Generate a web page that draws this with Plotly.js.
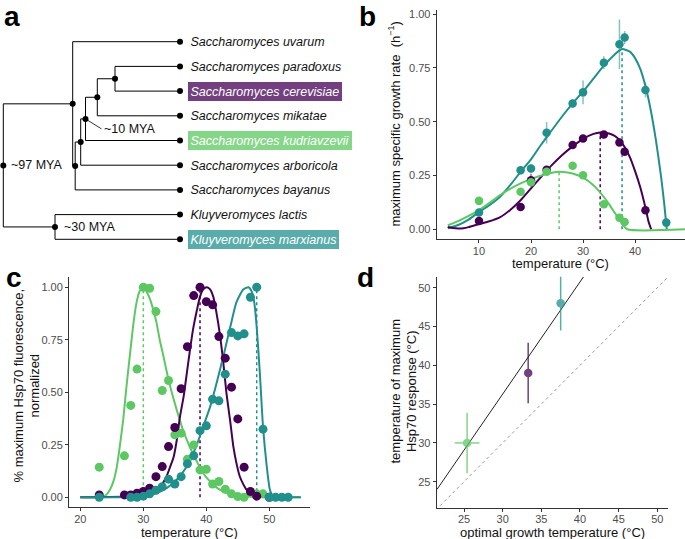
<!DOCTYPE html>
<html><head><meta charset="utf-8">
<script src="https://cdn.plot.ly/plotly-3.0.1.min.js"></script>
<style>html,body{margin:0;padding:0;background:#fff}#chart{width:685px;height:539px}</style>
</head><body><div id="chart"></div>
<script>
// ---------- Panel a: phylogeny ----------
const tipKeys = ['uvarum','paradoxus','cerevisiae','mikatae','kudriavzevii','arboricola','bayanus','lactis','marxianus'];
const tipNames = ['Saccharomyces uvarum','Saccharomyces paradoxus','Saccharomyces cerevisiae','Saccharomyces mikatae','Saccharomyces kudriavzevii','Saccharomyces arboricola','Saccharomyces bayanus','Kluyveromyces lactis','Kluyveromyces marxianus'];
const tipOrder = [1,2,3,4,5,6,7,8,9];
const tipDepth = 180;
const nodeKeys = ['R','S','B','C','D','E','F','K'];
const nodeDepth = [3.3, 72.7, 75.2, 80.7, 85.5, 97.3, 115, 55];
const nodeChildren = [['S','K'],['uvarum','B'],['C','bayanus'],['D','arboricola'],['E','kudriavzevii'],['F','mikatae'],['paradoxus','cerevisiae'],['lactis','marxianus']];
const ageNodes = ['R','K','D'];
const ageLabels = ['~97 MYA','~30 MYA','~10 MYA'];

// ---------- Panel b: growth rate ----------
const growthT_teal = [10,18,20,23,28,30,34,37,38,42,46];
const growthMu_teal = [0.078,0.274,0.282,0.448,0.584,0.636,0.774,0.859,0.891,0.647,0.031];
const growthErr_teal = [0.015,0.02,0.02,0.05,0.02,0.055,0.03,0.115,0.03,0.035,0.02];
const growthT_purple = [10,18,20,23,28,30,34,37,38,42];
const growthMu_purple = [0.039,0.104,0.228,0.277,0.391,0.422,0.440,0.403,0.360,0.088];
const growthErr_purple = [0.01,0.01,0.03,0.01,0.01,0.01,0.012,0.012,0.012,0.01];
const growthT_green = [10,18,20,23,28,30,34,37,38];
const growthMu_green = [0.132,0.174,0.218,0.267,0.295,0.251,0.116,0.054,0.034];
const growthErr_green = [0.01,0.01,0.01,0.01,0.01,0.01,0.01,0.01,0.01];

const fitB_teal_T = [4,6,8,10,12,14,16,18,20,22,24,26,28,30,32,34,36,37.5,39,40,41,42,43,44,45,45.6,46.1];
const fitB_teal_Mu = [0.005,0.02,0.045,0.08,0.112,0.15,0.205,0.267,0.325,0.395,0.46,0.525,0.585,0.64,0.70,0.76,0.81,0.837,0.825,0.795,0.745,0.665,0.555,0.415,0.245,0.12,0.0];
const fitB_purple_T = [4,5,6,7,8,10,12,14,16,18,20,22,24,26,28,30,32,33.3,35,36,37,38,39,40,41,42,42.6,43.1];
const fitB_purple_Mu = [0.011,0.006,0.004,0.005,0.01,0.024,0.037,0.055,0.09,0.135,0.19,0.245,0.298,0.345,0.385,0.42,0.443,0.45,0.445,0.435,0.415,0.382,0.335,0.27,0.195,0.1,0.035,0.0];
const fitB_green_T = [4,6,8,10,12,14,16,18,20,22,24,25.5,27,28,30,32,33,34,35,36,37,37.5,38.5,49.6];
const fitB_green_Mu = [0.019,0.038,0.062,0.088,0.123,0.158,0.188,0.213,0.233,0.25,0.263,0.267,0.264,0.259,0.24,0.205,0.18,0.15,0.117,0.08,0.045,0.026,0.0,0.0];

// species order for summary arrays: green (kudriavzevii), purple (cerevisiae), teal (marxianus)
const optGrowthT = [25.4, 33.3, 37.5];
const optGrowthMu = [0.267, 0.45, 0.837];
const optGrowthErr = [1.6, 0, 0];
const hspPeakT = [30, 39, 48];
const hspPeakErr = [3.9, 3.9, 3.5];

// ---------- Panel c: Hsp70 ----------
const hspT_green = [23,27,28,29,30,31,32,33,34,35,36,37,38,39,40,41,42,43,44,45,46,48,49];
const hspY_green = [0.143,0.197,0.437,0.610,1.0,0.995,0.884,0.508,0.556,0.297,0.305,0.181,0.249,0.13,0.133,0.063,0.075,0.038,0.016,0.003,0.0,0.016,0.016];
const hspT_purple = [23,27,28,29,30,31,32,33,34,35,36,37,38,39,40,41,42,43,44,45,46,47,48,50];
const hspY_purple = [0.011,0.011,0.011,0.019,0.027,0.043,0.098,0.146,0.241,0.332,0.517,0.717,0.960,1.0,0.931,0.916,0.765,0.662,0.524,0.373,0.143,0.027,0.005,0.0];
const hspT_teal = [23,28,29,30,31,32,33,34,35,36,37,38,39,40,41,42,43,44,45,46,47,48,49,50,51,52,53];
const hspY_teal = [0,0,0,0.005,0.016,0.033,0.05,0.086,0.063,0.098,0.159,0.198,0.317,0.34,0.467,0.459,0.586,0.784,0.768,0.778,0.952,1.0,0.324,0,0,0,0];

const fitC_green_T = [20,23,24,24.7,25.3,25.8,26.3,26.8,27.3,27.9,28.4,28.9,29.4,30,30.5,31.1,31.6,32.1,32.6,33.2,33.7,34.2,35.3,36.3,37.4,38.5,39.5,40.6,42.2,44.3,46.4,48.5,55];
const fitC_green_Y = [0,0,0.008,0.035,0.08,0.146,0.25,0.368,0.52,0.686,0.82,0.924,0.98,1.0,0.98,0.94,0.89,0.83,0.75,0.67,0.60,0.535,0.416,0.32,0.238,0.17,0.114,0.075,0.035,0.011,0.003,0,0];
const fitC_purple_T = [20,28,30,31,32,32.6,33.2,33.7,34.2,34.8,35.3,35.8,36.4,36.9,37.4,37.9,38.5,39,39.5,40.1,40.6,41.1,41.6,42.2,42.7,43.2,43.8,44.3,44.8,45.3,45.9,46.4,47.5,48.5,50,51];
const fitC_purple_Y = [0,0.003,0.01,0.018,0.032,0.05,0.072,0.1,0.14,0.19,0.27,0.38,0.48,0.59,0.70,0.8,0.89,0.955,0.99,1.0,0.99,0.955,0.88,0.765,0.64,0.495,0.36,0.24,0.16,0.1,0.06,0.035,0.011,0.004,0,0];
const fitC_teal_T = [20,30,32.1,33.7,35.3,36.9,38.5,39.5,40.6,41.6,42.7,43.8,44.8,45.9,46.7,47.2,47.6,48.0,48.5,49.0,49.6,50.1,50.6,51.5,55];
const fitC_teal_Y = [0,0.003,0.02,0.043,0.083,0.146,0.25,0.336,0.43,0.54,0.67,0.81,0.93,0.99,1.0,0.98,0.93,0.81,0.59,0.336,0.146,0.035,0.003,0,0];

// ---------- Panel d ----------
const fitD_X = [21.5, 40.45];
const fitD_Y = [24.0, 51.4];
const identityXY = [21.9, 51.4];

// ---------- axis titles ----------
const titleB_x = 'temperature (°C)';
const titleB_y = 'maximum specific growth rate  (h<sup>−1</sup>)';
const titleC_x = 'temperature (°C)';
const titleC_y = '% maximum Hsp70 fluorescence,<br>normalized';
const titleD_x = 'optimal growth temperature (°C)';
const titleD_y = 'temperature of maximum<br>Hsp70 response (°C)';

// ---------- styles ----------
const C_GREEN = '#5DC863', C_PURPLE = '#440154', C_TEAL = '#21908C';
const speciesColors = [C_GREEN, C_PURPLE, C_TEAL];
const FONT = 'Liberation Sans, Arial, sans-serif';
const W = 685, H = 539;

// ---- tree geometry ----
const tipIdx = {}; tipKeys.forEach((k,i)=>tipIdx[k]=i);
const nodeIdx = {}; nodeKeys.forEach((k,i)=>nodeIdx[k]=i);
function pos(key){
  if (key in tipIdx) return {x: tipDepth, y: tipOrder[tipIdx[key]]};
  const i = nodeIdx[key];
  const ch = nodeChildren[i].map(pos);
  return {x: nodeDepth[i], y: ch.reduce((s,c)=>s+c.y,0)/ch.length, ch: ch};
}
const segX = [], segY = [], dotX = [], dotY = [];
nodeKeys.forEach(k=>{
  const p = pos(k);
  const ys = p.ch.map(c=>c.y);
  segX.push(p.x, p.x, null); segY.push(Math.min(...ys), Math.max(...ys), null);
  p.ch.forEach(c=>{ segX.push(p.x, c.x, null); segY.push(c.y, c.y, null); });
  dotX.push(p.x); dotY.push(p.y);
});
tipKeys.forEach((k,i)=>{ dotX.push(tipDepth); dotY.push(tipOrder[i]); });

const traces = [];
traces.push({x: segX, y: segY, xaxis:'x4', yaxis:'y4', mode:'lines', line:{color:'#000', width:1}, hoverinfo:'skip'});
traces.push({x: dotX, y: dotY, xaxis:'x4', yaxis:'y4', mode:'markers', marker:{color:'#000', size:6}, hoverinfo:'skip'});

// ---- panel b ----
const bFits = [[fitB_teal_T, fitB_teal_Mu, C_TEAL],[fitB_purple_T, fitB_purple_Mu, C_PURPLE],[fitB_green_T, fitB_green_Mu, C_GREEN]];
optGrowthT.forEach((t,i)=>{
  traces.push({x:[t,t], y:[0, optGrowthMu[i]], xaxis:'x', yaxis:'y', mode:'lines', line:{color:speciesColors[i], width:1.5, dash:'dot'}, hoverinfo:'skip'});
});
bFits.forEach(f=>traces.push({x:f[0], y:f[1], xaxis:'x', yaxis:'y', mode:'lines', line:{color:f[2], width:2, shape:'spline', smoothing:0.6}, hoverinfo:'skip'}));
const bPts = [[growthT_teal, growthMu_teal, growthErr_teal, C_TEAL, 'rgba(33,144,140,0.55)'],
              [growthT_purple, growthMu_purple, growthErr_purple, C_PURPLE, 'rgba(68,1,84,0.6)'],
              [growthT_green, growthMu_green, growthErr_green, C_GREEN, 'rgba(93,200,99,0.6)']];
bPts.forEach(p=>traces.push({x:p[0], y:p[1], xaxis:'x', yaxis:'y', mode:'markers',
  marker:{color:p[3], size:8.5}, error_y:{type:'data', array:p[2], width:0, thickness:1.5, color:p[4]}, hoverinfo:'skip'}));

// ---- panel c ----
hspPeakT.forEach((t,i)=>{
  traces.push({x:[t,t], y:[0,1], xaxis:'x2', yaxis:'y2', mode:'lines', line:{color:speciesColors[i], width:1.5, dash:'dot'}, hoverinfo:'skip'});
});
const cFits = [[fitC_green_T, fitC_green_Y, C_GREEN],[fitC_purple_T, fitC_purple_Y, C_PURPLE],[fitC_teal_T, fitC_teal_Y, C_TEAL]];
cFits.forEach(f=>traces.push({x:f[0], y:f[1], xaxis:'x2', yaxis:'y2', mode:'lines', line:{color:f[2], width:2, shape:'spline', smoothing:0.6}, hoverinfo:'skip'}));
const cPts = [[hspT_green, hspY_green, C_GREEN],[hspT_purple, hspY_purple, C_PURPLE],[hspT_teal, hspY_teal, C_TEAL]];
cPts.forEach(p=>traces.push({x:p[0], y:p[1], xaxis:'x2', yaxis:'y2', mode:'markers', marker:{color:p[2], size:9}, hoverinfo:'skip'}));

// ---- panel d ----
traces.push({x:identityXY, y:identityXY, xaxis:'x3', yaxis:'y3', mode:'lines', line:{color:'#999', width:1, dash:'dot'}, hoverinfo:'skip'});
traces.push({x:fitD_X, y:fitD_Y, xaxis:'x3', yaxis:'y3', mode:'lines', line:{color:'#222', width:1}, hoverinfo:'skip'});
optGrowthT.forEach((t,i)=>{
  traces.push({x:[t], y:[hspPeakT[i]], xaxis:'x3', yaxis:'y3', mode:'markers', opacity:0.75,
    marker:{color:speciesColors[i], size:8.5},
    error_x:{type:'data', array:[optGrowthErr[i]], width:0, thickness:1.5, color:speciesColors[i]},
    error_y:{type:'data', array:[hspPeakErr[i]], width:0, thickness:1.5, color:speciesColors[i]}, hoverinfo:'skip'});
});

// ---- axes ----
function ax(extra){
  return Object.assign({showline:true, linecolor:'#333', linewidth:1, ticks:'outside', ticklen:3, tickcolor:'#333',
    showgrid:false, zeroline:false, tickfont:{family:FONT, size:11, color:'#4d4d4d'}, fixedrange:true}, extra);
}
const titleFont = {family:FONT, size:13, color:'#111'};
const layout = {
  width: W, height: H, margin:{l:0,r:0,t:0,b:0}, showlegend:false,
  paper_bgcolor:'#fff', plot_bgcolor:'rgba(0,0,0,0)', font:{family:FONT},
  xaxis: ax({domain:[436.7/W, 1], range:[1.87, 49.6], tickvals:[10,20,30,40], anchor:'y', ticklabelstandoff:-2}),
  yaxis: ax({domain:[1-239.3/H, 1-10/H], range:[-0.0465, 1.0186], tickvals:[0,0.25,0.5,0.75,1], tickformat:'.2f', anchor:'x'}),
  xaxis2: ax({domain:[69/W, 310/W], range:[18.2, 56.46], tickvals:[20,30,40,50], anchor:'y2', ticklabelstandoff:-2}),
  yaxis2: ax({domain:[1-507.3/H, 1-276.7/H], range:[-0.048, 1.05], tickvals:[0,0.25,0.5,0.75,1], tickformat:'.2f', anchor:'x2'}),
  xaxis3: ax({domain:[436.7/W, 668.3/W], range:[21.47, 51.42], tickvals:[25,30,35,40,45,50], anchor:'y3', ticklabelstandoff:-2}),
  yaxis3: ax({domain:[1-507.7/H, 1-276.7/H], range:[21.65, 51.42], tickvals:[25,30,35,40,45,50], anchor:'x3'}),
  xaxis4: {domain:[0, 350/W], range:[0, 350], visible:false, fixedrange:true, anchor:'y4'},
  yaxis4: {domain:[1-260/H, 1], range:[9.838, -0.688], visible:false, fixedrange:true, anchor:'x4'},
  annotations: []
};

// axis titles placed as annotations (paper pixels)
function ptitle(text, px, py, angle){
  layout.annotations.push({xref:'paper', yref:'paper', x:px/W, y:1-py/H, xanchor:'center', yanchor:'middle',
    text:text, textangle:angle||0, showarrow:false, font:titleFont});
}
ptitle(titleB_x, 560.8, 263);
ptitle(titleB_y, 395, 124.5, -90);
ptitle(titleC_x, 189.5, 532);
ptitle(titleC_y, 26.5, 386, -90);
ptitle(titleD_x, 552.5, 532);
ptitle(titleD_y, 403.5, 391, -90);

// tip labels
const hl = {cerevisiae:'#73407F', kudriavzevii:'#86D68A', marxianus:'#59ACA9'};
tipKeys.forEach((k,i)=>{
  layout.annotations.push({xref:'x4', yref:'y4', x:187.7, y:tipOrder[i], xanchor:'left', yanchor:'middle',
    text:'<i>'+tipNames[i]+'</i>', showarrow:false, borderpad:2.5, borderwidth:0,
    bgcolor: hl[k] || 'rgba(0,0,0,0)', font:{family:FONT, size:12.5, color: hl[k] ? '#fff' : '#111'}});
});
// divergence time labels
ageNodes.forEach((k,i)=>{
  const p = pos(k);
  if (k === 'D') {
    layout.annotations.push({xref:'x4', yref:'y4', x:p.x, y:p.y, ax:16, ay:10, xanchor:'left', yanchor:'middle',
      text:ageLabels[i], showarrow:true, arrowhead:0, arrowwidth:0.8, arrowcolor:'#000', standoff:3,
      font:{family:FONT, size:12.5, color:'#111'}});
  } else {
    layout.annotations.push({xref:'x4', yref:'y4', x:p.x + (k==='R'?5.2:7.2), y:p.y, xanchor:'left', yanchor:'middle',
      text:ageLabels[i], showarrow:false, font:{family:FONT, size:12.5, color:'#111'}});
  }
});
// panel letters
[['a',12,17],['b',367,17],['c',14,277],['d',366,277]].forEach(l=>{
  layout.annotations.push({xref:'paper', yref:'paper', x:l[1]/W, y:1-l[2]/H, xanchor:'center', yanchor:'middle',
    text:'<b>'+l[0]+'</b>', showarrow:false, font:{family:FONT, size:28, color:'#000'}});
});

Plotly.newPlot('chart', traces, layout, {staticPlot:true, displayModeBar:false});
</script></body></html>
